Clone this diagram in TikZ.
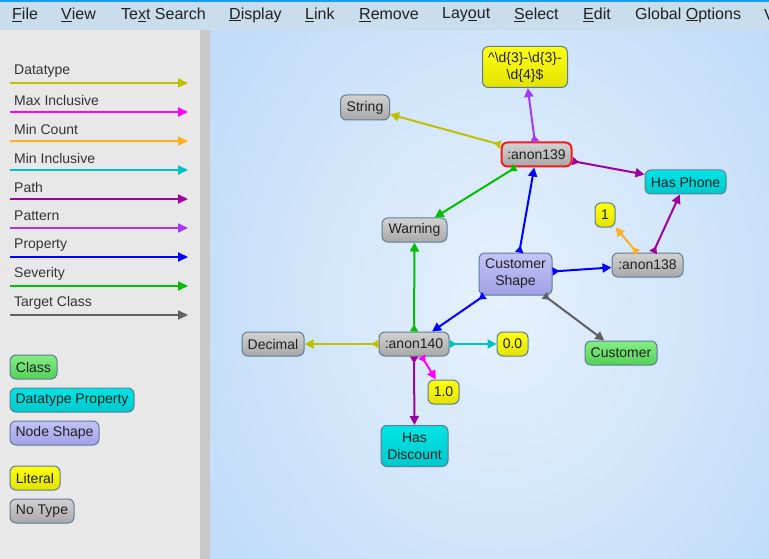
\documentclass[tikz,border=0pt]{standalone}
\usepackage{fontspec}
\setmainfont{Liberation Sans}
\usetikzlibrary{arrows.meta}
\definecolor{topblue}{HTML}{1A9CF0}
\definecolor{menubg}{HTML}{CADDEC}
\definecolor{panelbg}{HTML}{E8E8E8}
\definecolor{scrollc}{HTML}{C8C8C8}
\definecolor{canvin}{HTML}{E6F1FD}
\definecolor{canvout}{HTML}{C0DCF8}
\definecolor{bordc}{HTML}{5E7C98}
\definecolor{txt}{HTML}{202020}
\definecolor{leg}{HTML}{333333}
\definecolor{cDatatype}{HTML}{C0C000}
\definecolor{cMax}{HTML}{FF00FF}
\definecolor{cMinCount}{HTML}{FFB020}
\definecolor{cMinIncl}{HTML}{00C0C0}
\definecolor{cPath}{HTML}{A000A0}
\definecolor{cPattern}{HTML}{A838F8}
\definecolor{cProperty}{HTML}{0000FF}
\definecolor{cSeverity}{HTML}{00C000}
\definecolor{cTarget}{HTML}{606060}
\definecolor{classT}{HTML}{84EE84}
\definecolor{classB}{HTML}{55D055}
\definecolor{dpT}{HTML}{00E6E6}
\definecolor{dpB}{HTML}{00C8CC}
\definecolor{nsT}{HTML}{C4C4F8}
\definecolor{nsB}{HTML}{A0A0E6}
\definecolor{litT}{HTML}{FFFF10}
\definecolor{litB}{HTML}{E2E200}
\definecolor{ntT}{HTML}{D2D2D2}
\definecolor{ntB}{HTML}{A8A8A8}
\definecolor{redb}{HTML}{FF1818}
\tikzset{
  x=1pt, y=-1pt,
  nd/.style={rounded corners=6pt, draw=bordc, line width=1pt, inner sep=0pt,
    minimum height=24pt, align=center, text=txt,
    font=\fontsize{14}{17}\selectfont},
  clsn/.style={nd, top color=classT, bottom color=classB},
  dpn/.style={nd, top color=dpT, bottom color=dpB},
  nsn/.style={nd, top color=nsT, bottom color=nsB},
  litn/.style={nd, top color=litT, bottom color=litB},
  ntn/.style={nd, top color=ntT, bottom color=ntB},
  ed/.style={line width=2pt, draw=#1,
    {Triangle[reversed,length=7pt,width=8pt]}-{Triangle[length=9pt,width=9pt]}},
  legline/.style={line width=2pt, draw=#1, -{Triangle[length=10pt,width=9pt]}},
  leglab/.style={anchor=west, text=leg, inner sep=0pt, font=\fontsize{14}{16}\selectfont},
  menu/.style={anchor=west, text=txt, inner sep=0pt, font=\fontsize{16}{18}\selectfont}
}
\begin{document}
\begin{tikzpicture}
\useasboundingbox (0,0) rectangle (769,559);
% backgrounds
\fill[panelbg] (0,30) rectangle (200,559);
\fill[scrollc] (200,30) rectangle (210,559);
\begin{scope}
\clip (210,30) rectangle (769,559);
\shade[inner color=canvin, outer color=canvout] (150,-120) rectangle (850,720);
\end{scope}
\fill[menubg] (0,0) rectangle (769,30);
\fill[topblue] (0,0) rectangle (769,2);
% menu
\node[menu] (mFile) at (12,15) {\underline{F}ile};
\node[menu] (mView) at (61,15) {\underline{V}iew};
\node[menu] (mText) at (121,15) {Te\underline{x}t Search};
\node[menu] (mDisp) at (229,15) {\underline{D}isplay};
\node[menu] (mLink) at (305,15) {\underline{L}ink};
\node[menu] (mRem) at (359,15) {\underline{R}emove};
\node[menu] (mLay) at (442,15) {Lay\underline{o}ut};
\node[menu] (mSel) at (514,15) {\underline{S}elect};
\node[menu] (mEdit) at (583,15) {\underline{E}dit};
\node[menu] (mGlob) at (635,15) {Global \underline{O}ptions};
\node[menu] (mV) at (764,15) {V};
% legend edges
\foreach \lab/\col/\yy [count=\i] in {Datatype/cDatatype/71, Max Inclusive/cMax/100, Min Count/cMinCount/129, Min Inclusive/cMinIncl/158, Path/cPath/187, Pattern/cPattern/216, Property/cProperty/245, Severity/cSeverity/274, Target Class/cTarget/303}{
  \node[leglab] (ll\i) at (14,\yy) {\lab};
  \coordinate (la\i) at (10,\yy+12);
  \coordinate (lb\i) at (188,\yy+12);
  \draw[legline=\col] (la\i) -- (lb\i);
}
% legend nodes
\node[clsn, minimum width=47pt] (lgClass) at (33.5,367) {Class};
\node[dpn, minimum width=124pt] (lgDP) at (72,400) {Datatype Property};
\node[nsn, minimum width=89pt] (lgNS) at (54.5,433) {Node Shape};
\node[litn, minimum width=50pt] (lgLit) at (35,478) {Literal};
\node[ntn, minimum width=64pt] (lgNT) at (42,511) {No Type};
% graph nodes
\node[litn, minimum width=85pt, minimum height=41pt] (rx) at (525,67) {\textasciicircum\textbackslash d\{3\}-\textbackslash d\{3\}-\\\textbackslash d\{4\}\$};
\node[ntn, minimum width=49pt, minimum height=25pt] (str) at (365,107.5) {String};
\node[ntn, draw=redb, line width=2pt, minimum width=70pt, minimum height=24pt] (a139) at (536.5,154.5) {:anon139};
\node[dpn, minimum width=81pt] (hp) at (685.5,182) {Has Phone};
\node[ntn, minimum width=65pt] (warn) at (414.5,230) {Warning};
\node[litn, minimum width=20pt] (one) at (605,215) {1};
\node[nsn, minimum width=73pt, minimum height=42pt] (cs) at (515.5,274) {Customer\\Shape};
\node[ntn, minimum width=71pt] (a138) at (647.5,265) {:anon138};
\node[ntn, minimum width=62pt] (dec) at (273,344) {Decimal};
\node[ntn, minimum width=70pt] (a140) at (414,344) {:anon140};
\node[litn, minimum width=31pt] (zero) at (512.5,344) {0.0};
\node[clsn, minimum width=72pt] (cust) at (621,353) {Customer};
\node[litn, minimum width=31pt] (onez) at (443.5,392) {1.0};
\node[dpn, minimum width=67pt, minimum height=41pt] (hd) at (414.5,446) {Has\\Discount};
% edges
\draw[ed=cDatatype] (a139) -- (str);
\draw[ed=cPattern] (a139) -- (rx);
\draw[ed=cPath] (a139) -- (hp);
\draw[ed=cProperty] (cs) -- (a139);
\draw[ed=cSeverity] (a139) -- (warn);
\draw[ed=cSeverity] (a140) -- (warn);
\draw[ed=cProperty] (cs) -- (a140);
\draw[ed=cProperty] (cs) -- (a138);
\draw[ed=cTarget] (cs) -- (cust);
\draw[ed=cMinCount] (a138) -- (one);
\draw[ed=cPath] (a138) -- (hp);
\draw[ed=cDatatype] (a140) -- (dec);
\draw[ed=cMinIncl] (a140) -- (zero);
\draw[ed=cMax] (a140) -- (onez);
\draw[ed=cPath] (a140) -- (hd);
\end{tikzpicture}
\end{document}
